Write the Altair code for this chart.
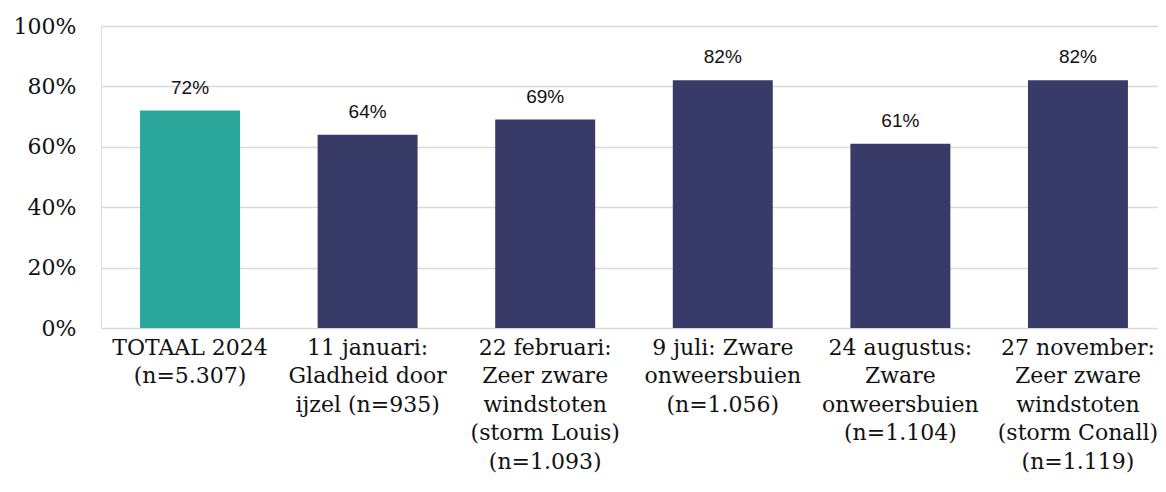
import altair as alt
import pandas as pd

categories = [
    "TOTAAL 2024|(n=5.307)",
    "11 januari:|Gladheid door|ijzel (n=935)",
    "22 februari:|Zeer zware|windstoten|(storm Louis)|(n=1.093)",
    "9 juli: Zware|onweersbuien|(n=1.056)",
    "24 augustus:|Zware|onweersbuien|(n=1.104)",
    "27 november:|Zeer zware|windstoten|(storm Conall)|(n=1.119)",
]
values = [0.72, 0.64, 0.69, 0.82, 0.61, 0.82]
groups = ["totaal", "event", "event", "event", "event", "event"]

df = pd.DataFrame({"cat": categories, "value": values, "group": groups})

serif = "DejaVu Serif"
sans = "Liberation Sans"

x = alt.X(
    "cat:N",
    sort=categories,
    title=None,
    scale=alt.Scale(paddingInner=0.437, paddingOuter=0.1945, align=0.565),
    axis=alt.Axis(
        labelAngle=0,
        labelExpr="split(datum.label, '|')",
        labelFont=serif,
        labelFontSize=22,
        labelColor="#111111",
        labelLineHeight=28.5,
        labelBaseline="top",
        labelPadding=9,
        labelLimit=300,
        ticks=False,
        domain=False,
        labelOverlap=False,
    ),
)

y = alt.Y(
    "value:Q",
    title=None,
    scale=alt.Scale(domain=[0, 1], nice=False),
    axis=alt.Axis(
        format=".0%",
        values=[0, 0.2, 0.4, 0.6, 0.8, 1.0],
        labelFont=serif,
        labelFontSize=22,
        labelColor="#111111",
        labelPadding=25,
        ticks=False,
        domain=False,
        gridColor="#d9d9d9",
        gridWidth=1.5,
    ),
)

base = alt.Chart(df)

bars = base.mark_bar().encode(
    x=x,
    y=y,
    color=alt.Color(
        "group:N",
        scale=alt.Scale(domain=["totaal", "event"], range=["#2aa69b", "#383b68"]),
        legend=None,
    ),
)

labels = base.mark_text(
    baseline="alphabetic", dy=-17, font=sans, fontSize=19, color="#111111"
).encode(
    x=alt.X("cat:N", sort=categories),
    y="value:Q",
    text=alt.Text("value:Q", format=".0%"),
)

chart = (
    (bars + labels)
    .properties(
        width=1057,
        height=302,
        autosize=alt.AutoSizeParams(type="none"),
        padding={"left": 93, "top": 18, "right": 0, "bottom": 156},
    )
    .configure_view(stroke=None)
    .configure(background="white")
)

chart.save("out.html", embed_options={"renderer": "svg", "actions": False})
